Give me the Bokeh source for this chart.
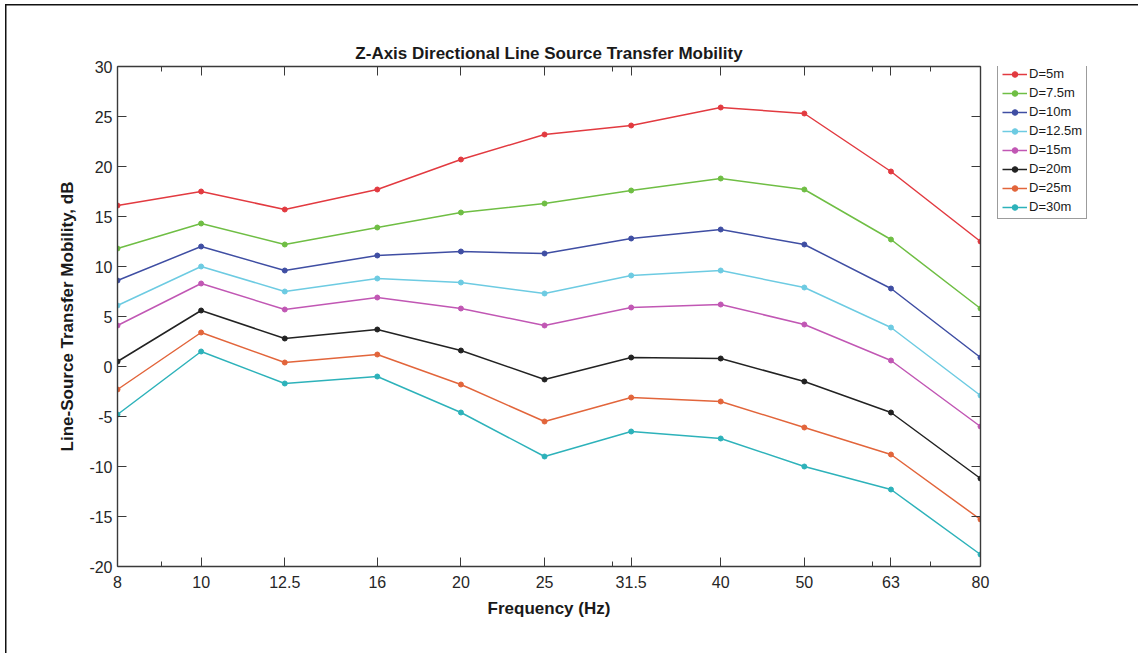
from bokeh.plotting import figure
from bokeh.layouts import row
from bokeh.models import (Range1d, LogAxis, LinearAxis, FixedTicker, CustomJSTickFormatter,
                          Legend, LegendItem, LogScale)
from bokeh.embed import file_html
from bokeh.resources import INLINE

freqs = [8, 10, 12.5, 16, 20, 25, 31.5, 40, 50, 63, 80]
minor_freqs = [9, 30, 60, 70]
y_ticks = [-20, -15, -10, -5, 0, 5, 10, 15, 20, 25, 30]

labels = ["D=5m", "D=7.5m", "D=10m", "D=12.5m", "D=15m", "D=20m", "D=25m", "D=30m"]
d5 = [16.1, 17.5, 15.7, 17.7, 20.7, 23.2, 24.1, 25.9, 25.3, 19.5, 12.5]
d7_5 = [11.8, 14.3, 12.2, 13.9, 15.4, 16.3, 17.6, 18.8, 17.7, 12.7, 5.8]
d10 = [8.6, 12.0, 9.6, 11.1, 11.5, 11.3, 12.8, 13.7, 12.2, 7.8, 0.9]
d12_5 = [6.1, 10.0, 7.5, 8.8, 8.4, 7.3, 9.1, 9.6, 7.9, 3.9, -2.9]
d15 = [4.1, 8.3, 5.7, 6.9, 5.8, 4.1, 5.9, 6.2, 4.2, 0.6, -6.0]
d20 = [0.5, 5.6, 2.8, 3.7, 1.6, -1.3, 0.9, 0.8, -1.5, -4.6, -11.2]
d25 = [-2.3, 3.4, 0.4, 1.2, -1.8, -5.5, -3.1, -3.5, -6.1, -8.8, -15.3]
d30 = [-4.8, 1.5, -1.7, -1.0, -4.6, -9.0, -6.5, -7.2, -10.0, -12.3, -18.8]
series = [d5, d7_5, d10, d12_5, d15, d20, d25, d30]
colors = ["#e23a40", "#6fbe44", "#3f4ea3", "#6dcbe2", "#c157b4", "#222222", "#e2653b", "#2db2ba"]

FONT = "Liberation Sans"
TXT = "#262626"
AX = "#3a3a3a"

p = figure(frame_width=863, frame_height=500, x_axis_type=None, y_axis_type=None,
           x_range=Range1d(8, 80), y_range=Range1d(-20, 30),
           output_backend="svg", toolbar_location=None,
           min_border_left=117, min_border_right=12, min_border_top=66, min_border_bottom=87,
           title="Z-Axis Directional Line Source Transfer Mobility")
p.x_scale = LogScale()
p.grid.visible = False
p.outline_line_color = None
p.background_fill_color = "white"
p.border_fill_alpha = 0
p.styles = {
    "background": "linear-gradient(#111,#111) 5px 4px / 1.5px 100% no-repeat, "
                  "linear-gradient(#111,#111) 5px 4px / 100% 1.5px no-repeat, white"
}

p.title.text_font = FONT
p.title.text_font_size = "17px"
p.title.text_font_style = "bold"
p.title.text_color = "#1a1a1a"
p.title.align = "center"
p.title.standoff = 7

xt = FixedTicker(ticks=freqs, minor_ticks=minor_freqs)
yt = FixedTicker(ticks=y_ticks, minor_ticks=[])
fmt = CustomJSTickFormatter(code="return String(tick)")
blank = CustomJSTickFormatter(code="return ''")

def style(ax, labels_on=True):
    ax.axis_line_color = AX
    ax.axis_line_width = 1.4
    ax.major_tick_line_color = AX
    ax.minor_tick_line_color = AX
    ax.major_tick_in = 9
    ax.major_tick_out = 0
    ax.minor_tick_in = 5
    ax.minor_tick_out = 0
    ax.major_label_text_font = FONT
    ax.major_label_text_font_size = "16px"
    ax.major_label_text_color = TXT
    ax.axis_label_text_font = FONT
    ax.axis_label_text_font_size = "17px"
    ax.axis_label_text_font_style = "bold"
    ax.axis_label_text_color = "#1a1a1a"
    if not labels_on:
        ax.major_label_text_alpha = 0
        ax.major_label_standoff = 0

xb = LogAxis(ticker=xt, formatter=fmt, axis_label="Frequency (Hz)")
style(xb)
xb.major_label_standoff = 9
xb.axis_label_standoff = 8
p.add_layout(xb, "below")

xa = LogAxis(ticker=xt, formatter=blank)
style(xa, False)
p.add_layout(xa, "above")

yl = LinearAxis(ticker=yt, formatter=fmt, axis_label="Line-Source Transfer Mobility, dB")
style(yl)
yl.major_label_standoff = 5
yl.axis_label_standoff = 9
p.add_layout(yl, "left")

yr = LinearAxis(ticker=yt, formatter=blank)
style(yr, False)
p.add_layout(yr, "right")

for vals, c in zip(series, colors):
    p.line(freqs, vals, line_color=c, line_width=1.5)
    p.scatter(freqs, vals, marker="circle", size=5, fill_color=c, line_color=c)

# separate narrow panel that carries the legend outside the axes box
q = figure(width=146, height=653, x_axis_type=None, y_axis_type=None,
           x_range=Range1d(0, 1), y_range=Range1d(0, 1),
           output_backend="svg", toolbar_location=None, min_border=0)
q.outline_line_color = None
q.border_fill_alpha = 0
q.background_fill_alpha = 0
q.styles = {"background": "linear-gradient(#111,#111) 0 4px / 100% 1.5px no-repeat, white"}

items = []
for lab, vals, c in zip(labels, series, colors):
    lr = q.line(freqs, vals, line_color=c, line_width=1.5)
    sr = q.scatter(freqs, vals, marker="circle", size=5, fill_color=c, line_color=c)
    items.append(LegendItem(label=lab, renderers=[lr, sr]))

leg = Legend(items=items, location=(5, 347))
leg.label_text_font = FONT
leg.label_text_font_size = "13px"
leg.label_text_color = "#1a1a1a"
leg.label_height = 14
leg.glyph_height = 14
leg.glyph_width = 25
leg.label_standoff = 2
leg.spacing = 4
leg.padding = 4
leg.margin = 0
leg.border_line_color = AX
leg.border_line_width = 1.5
leg.background_fill_color = "white"
q.add_layout(leg, "center")

layout = row(p, q, spacing=0)
open("out.html", "w").write(file_html(layout, INLINE))
